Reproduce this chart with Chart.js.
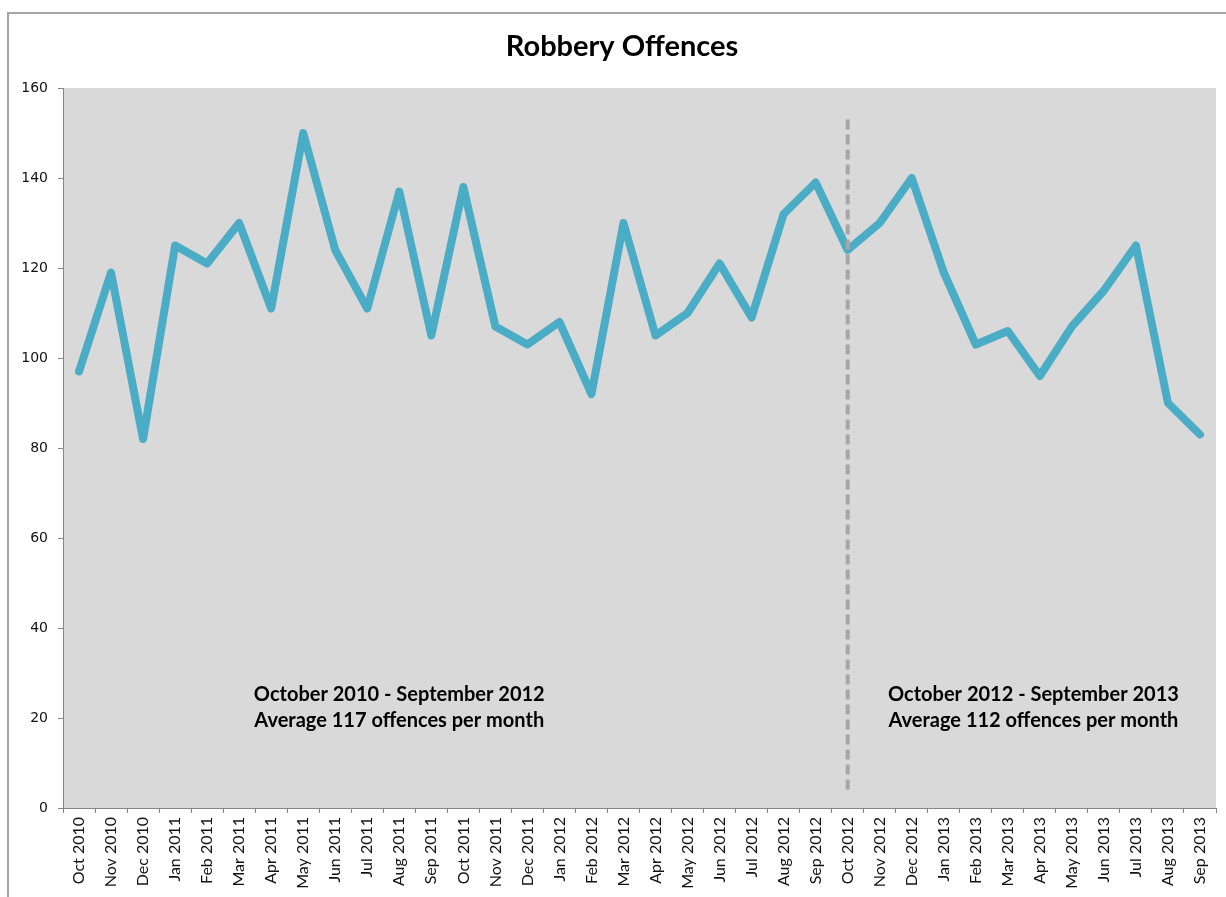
<!DOCTYPE html>
<html>
<head>
<meta charset="utf-8">
<title>Robbery Offences</title>
<script src="https://cdn.jsdelivr.net/npm/chart.js@4.4.1/dist/chart.umd.min.js"></script>
<style>
  html, body { margin: 0; padding: 0; background: #fff; }
</style>
</head>
<body>
<canvas id="robberyChart" width="1226" height="897"></canvas>
<script>
const months = [
  "Oct 2010", "Nov 2010", "Dec 2010", "Jan 2011", "Feb 2011", "Mar 2011",
  "Apr 2011", "May 2011", "Jun 2011", "Jul 2011", "Aug 2011", "Sep 2011",
  "Oct 2011", "Nov 2011", "Dec 2011", "Jan 2012", "Feb 2012", "Mar 2012",
  "Apr 2012", "May 2012", "Jun 2012", "Jul 2012", "Aug 2012", "Sep 2012",
  "Oct 2012", "Nov 2012", "Dec 2012", "Jan 2013", "Feb 2013", "Mar 2013",
  "Apr 2013", "May 2013", "Jun 2013", "Jul 2013", "Aug 2013", "Sep 2013"
];
const offences = [
  97, 119, 82, 125, 121, 130, 111, 150, 124, 111, 137, 105,
  138, 107, 103, 108, 92, 130, 105, 110, 121, 109, 132, 139,
  124, 130, 140, 119, 103, 106, 96, 107, 115, 125, 90, 83
];
const yMin = 0;
const yMax = 160;
const yStep = 20;

const chartTitle = "Robbery Offences";

// the split between the two periods falls on Oct 2012
const splitIndex = 24;
const periodNames = ["October 2010 - September 2012", "October 2012 - September 2013"];

const mean = arr => arr.reduce((a, b) => a + b, 0) / arr.length;
const periodAverages = [
  Math.round(mean(offences.slice(0, splitIndex))),
  Math.round(mean(offences.slice(splitIndex)))
];

// outer border, grey plot background and the title
const frame = {
  id: "frame",
  beforeDraw(chart) {
    const { ctx, chartArea } = chart;
    ctx.save();
    ctx.strokeStyle = "#a6a6a6";
    ctx.lineWidth = 2;
    ctx.strokeRect(8, 13, 1300, 1000);
    ctx.fillStyle = "#d9d9d9";
    ctx.fillRect(chartArea.left, chartArea.top, chartArea.right - chartArea.left, chartArea.bottom - chartArea.top);

    ctx.fillStyle = "#000";
    ctx.font = "bold 29px Lato";
    ctx.textAlign = "center";
    ctx.textBaseline = "alphabetic";
    ctx.fillText(chartTitle, 622, 56);
    ctx.restore();
  }
};

const splitter = {
  id: "splitter",
  afterDatasetsDraw(chart) {
    const { ctx } = chart;
    const x = chart.scales.x;
    const y = chart.scales.y;
    ctx.save();
    // dashed marker at the start of the second period
    const px = x.getPixelForValue(splitIndex);
    ctx.strokeStyle = "#a6a6a6";
    ctx.lineWidth = 4;
    ctx.setLineDash([10, 5]);
    ctx.beginPath();
    ctx.moveTo(px, y.getPixelForValue(153));
    ctx.lineTo(px, y.getPixelForValue(4));
    ctx.stroke();
    ctx.setLineDash([]);

    // period notes
    ctx.fillStyle = "#000";
    ctx.font = "bold 20px Lato";
    ctx.textAlign = "center";
    ctx.textBaseline = "middle";
    const notes = [
      { at: 10, lines: [periodNames[0], "Average " + periodAverages[0] + " offences per month"] },
      { at: 29.8, lines: [periodNames[1], "Average " + periodAverages[1] + " offences per month"] }
    ];
    notes.forEach(n => {
      ctx.fillText(n.lines[0], x.getPixelForValue(n.at), y.getPixelForValue(25.3));
      ctx.fillText(n.lines[1], x.getPixelForValue(n.at), y.getPixelForValue(19.5));
    });
    ctx.restore();
  }
};

new Chart(document.getElementById("robberyChart"), {
  type: "line",
  data: {
    labels: months,
    datasets: [{
      label: "Robbery offences",
      data: offences,
      borderColor: "#4bacc6",
      borderWidth: 8,
      borderJoinStyle: "round",
      borderCapStyle: "round",
      pointRadius: 0,
      tension: 0,
      fill: false
    }]
  },
  options: {
    responsive: false,
    animation: false,
    layout: { padding: { left: 8, right: 10, top: 88, bottom: 0 } },
    plugins: {
      legend: { display: false },
      tooltip: { enabled: false },
      title: { display: false }
    },
    scales: {
      x: {
        offset: true,
        afterFit(scale) { scale.height = 89; },
        grid: {
          offset: true,
          drawOnChartArea: false,
          tickLength: 5,
          color: "#868686"
        },
        border: { color: "#868686", width: 1 },
        ticks: {
          autoSkip: false,
          minRotation: 90,
          maxRotation: 90,
          padding: 4,
          color: "#111",
          font: { family: "Lato", size: 16 }
        }
      },
      y: {
        min: yMin,
        max: yMax,
        afterFit(scale) { scale.width = 55; },
        grid: {
          drawOnChartArea: false,
          tickLength: 5,
          color: "#868686"
        },
        border: { color: "#868686", width: 1 },
        ticks: {
          stepSize: yStep,
          padding: 10,
          color: "#111",
          font: { family: "DejaVu Sans", size: 14 }
        }
      }
    }
  },
  plugins: [frame, splitter]
});
</script>
</body>
</html>
